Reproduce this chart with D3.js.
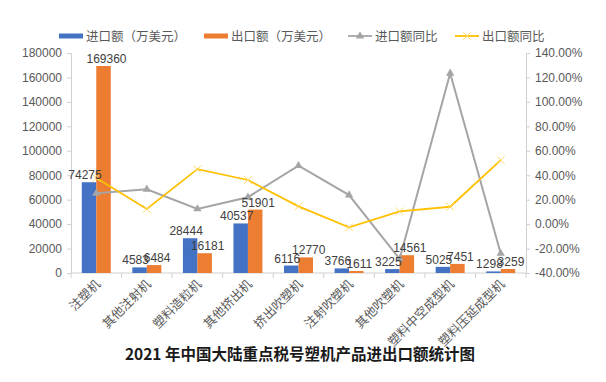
<!DOCTYPE html>
<html><head><meta charset="utf-8">
<script src="https://cdn.jsdelivr.net/npm/d3@7"></script>
<style>body{margin:0;background:#fff}svg{display:block}</style>
</head><body><svg id="c" width="606" height="382"></svg>
<script>
const categories = ["注塑机","其他注射机","塑料造粒机","其他挤出机","挤出吹塑机","注射吹塑机","其他吹塑机","塑料中空成型机","塑料压延成型机"];
const importVals = [74275,4583,28444,40537,6116,3766,3225,5025,1298];
const exportVals = [169360,6484,16181,51901,12770,1611,14561,7451,3259];
const importYoY = [25.2,28.5,12.4,22.0,47.8,23.8,-28.5,123.4,-24.0];
const exportYoY = [37.8,12.4,45.0,36.1,14.5,-2.7,10.5,14.2,52.4];
const leftTicks = [0,20000,40000,60000,80000,100000,120000,140000,160000,180000];
const rightTicks = [-40,-20,0,20,40,60,80,100,120,140];
const seriesNames = ["进口额（万美元）","出口额（万美元）","进口额同比","出口额同比"];
const title = "2021 年中国大陆重点税号塑机产品进出口额统计图";

const svg = d3.select("#c");
const L=71, R=526, T=53, B=273;
const font = "Liberation Sans, Arial, sans-serif";
const x = d3.scaleBand().domain(categories).range([L,R]);
const yL = d3.scaleLinear().domain([0,180000]).range([B,T]);
const yR = d3.scaleLinear().domain([-40,140]).range([B,T]);
const bw = 14.5;
const blue="#4472C4", orange="#ED7D31", gray="#A5A5A5", yellow="#FFC000";

// axes
const axL = svg.append("g").attr("transform",`translate(${L},0)`).call(d3.axisLeft(yL).tickValues(leftTicks).tickSize(4).tickPadding(5).tickFormat(d3.format("d")));
const axR = svg.append("g").attr("transform",`translate(${R},0)`).call(d3.axisRight(yR).tickValues(rightTicks).tickSize(4).tickPadding(5).tickFormat(d=>d.toFixed(2)+"%"));
[axL,axR].forEach(a=>{a.selectAll("path,line").attr("stroke","#D0D0D0");a.selectAll("text").attr("fill","#595959").style("font-family",font).style("font-size","12px");});

// x axis
const axX = svg.append("g").attr("transform",`translate(0,${B})`);
axX.append("line").attr("x1",L).attr("x2",R).attr("stroke","#D0D0D0");
axX.selectAll("line.t").data(d3.range(categories.length+1)).join("line").attr("class","t")
  .attr("x1",i=>L+i*x.step()).attr("x2",i=>L+i*x.step()).attr("y1",0).attr("y2",5).attr("stroke","#D0D0D0");
axX.selectAll("text").data(categories).join("text")
  .attr("transform",d=>`translate(${x(d)+x.bandwidth()/2+5},12) rotate(-45)`)
  .attr("text-anchor","end").attr("fill","#595959").style("font-family","Noto Sans CJK SC").style("font-size","12.5px").text(d=>d);

// bars
const cx = d=>x(d)+x.bandwidth()/2;
svg.selectAll("rect.imp").data(categories).join("rect").attr("class","imp")
  .attr("x",d=>cx(d)-bw).attr("width",bw).attr("y",(d,i)=>yL(importVals[i])).attr("height",(d,i)=>B-yL(importVals[i])).attr("fill",blue);
svg.selectAll("rect.exp").data(categories).join("rect").attr("class","exp")
  .attr("x",d=>cx(d)).attr("width",bw).attr("y",(d,i)=>yL(exportVals[i])).attr("height",(d,i)=>B-yL(exportVals[i])).attr("fill",orange);

// lines
const lineImp = d3.line().x((d,i)=>cx(categories[i])).y(d=>yR(d));
svg.append("path").attr("d",lineImp(importYoY)).attr("fill","none").attr("stroke",gray).attr("stroke-width",2);
svg.append("path").attr("d",lineImp(exportYoY)).attr("fill","none").attr("stroke",yellow).attr("stroke-width",1.8);
const tri = d3.symbol().type(d3.symbolTriangle).size(30);
svg.selectAll("path.tri").data(importYoY).join("path").attr("class","tri")
  .attr("transform",(d,i)=>`translate(${cx(categories[i])},${yR(d)})`).attr("d",tri()).attr("fill",gray);
const cross = d3.symbol().type(d3.symbolX).size(40);
svg.selectAll("path.cr").data(exportYoY).join("path").attr("class","cr")
  .attr("transform",(d,i)=>`translate(${cx(categories[i])},${yR(d)})`).attr("d",cross()).attr("fill","none").attr("stroke","#FFD966").attr("stroke-width",1);

// data labels
svg.selectAll("text.li").data(importVals).join("text").attr("class","li")
  .attr("x",(d,i)=>cx(categories[i])-bw/2-4).attr("y",d=>yL(d)-3).attr("text-anchor","middle")
  .attr("fill","#404040").style("font-family",font).style("font-size","12px").text(d=>d);
svg.selectAll("text.le").data(exportVals).join("text").attr("class","le")
  .attr("x",(d,i)=>cx(categories[i])+bw/2+3).attr("y",d=>yL(d)-3).attr("text-anchor","middle")
  .attr("fill","#404040").style("font-family",font).style("font-size","12px").text(d=>d);

// legend
const lg = svg.append("g").attr("transform","translate(0,36)");
const items = [{x:59,c:blue,t:"rect"},{x:204,c:orange,t:"rect"},{x:348,c:gray,t:"tri"},{x:455,c:yellow,t:"x"}];
items.forEach((it,i)=>{
  if(it.t==="rect"){lg.append("rect").attr("x",it.x).attr("y",-2.5).attr("width",24).attr("height",5).attr("fill",it.c);}
  else{
    lg.append("line").attr("x1",it.x).attr("x2",it.x+24).attr("stroke",it.c).attr("stroke-width",1.8);
    if(it.t==="tri") lg.append("path").attr("transform",`translate(${it.x+12},0)`).attr("d",tri()).attr("fill",it.c);
    else lg.append("path").attr("transform",`translate(${it.x+12},0)`).attr("d",cross()).attr("stroke","#FFD966").attr("fill","none");
  }
  lg.append("text").attr("x",it.x+27).attr("y",4.5).attr("fill","#595959").style("font-family","Noto Sans CJK SC").style("font-size","12.5px").text(seriesNames[i]);
});

// title
svg.append("text").attr("x",300).attr("y",360).attr("text-anchor","middle").attr("fill","#1a1a1a")
  .style("font-family","Noto Sans CJK SC").style("font-weight","bold").style("font-size","15.5px").text(title);
</script></body></html>
